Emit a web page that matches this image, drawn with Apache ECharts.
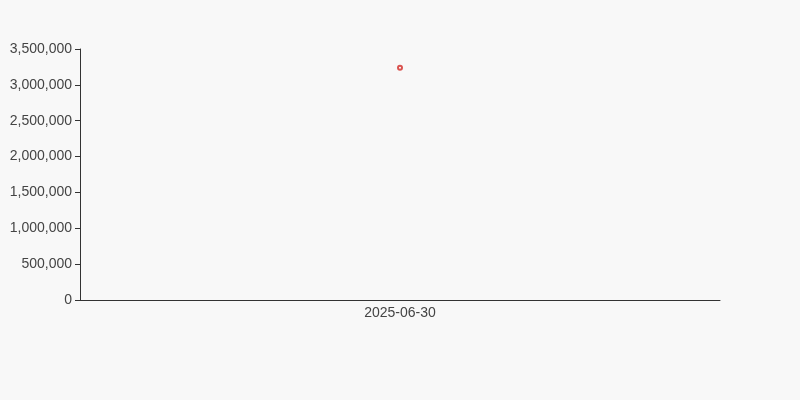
<!DOCTYPE html>
<html lang="en">
<head>
	<meta charset="UTF-8">
	<title>echarts</title>
	<script src="https://cdn.jsdelivr.net/npm/echarts@6/dist/echarts.min.js"></script>
	<style>
		html, body { margin: 0; padding: 0; background: #f8f8f8; }
		#main { width: 800px; height: 400px; }
	</style>
</head>
<body>
	<div id="main"></div>
	<script type="text/javascript">
		var dates = ['2025-06-30'];
		var values = [3240000];

		var myChart = echarts.init(document.getElementById('main'));

		var option = {
			backgroundColor: '#f8f8f8',
			animation: false,
			grid: { left: 80, right: 80, top: 49, bottom: 100, containLabel: false },
			xAxis: {
				type: 'category',
				data: dates,
				boundaryGap: true,
				axisLine: { lineStyle: { color: '#333' } },
				axisTick: { lineStyle: { color: '#333' } },
				axisLabel: { color: '#444', fontSize: 14, margin: 6, fontFamily: 'Liberation Sans' }
			},
			yAxis: {
				type: 'value',
				min: 0,
				max: 3500000,
				interval: 500000,
				splitLine: { show: false },
				axisLine: { show: true, lineStyle: { color: '#333' } },
				axisTick: { show: true, lineStyle: { color: '#333' } },
				axisLabel: {
					color: '#444', fontSize: 14, fontFamily: 'Liberation Sans',
					formatter: function (v) { return v.toLocaleString('en-US'); }
				}
			},
			series: [{
				type: 'line',
				data: values,
				symbol: 'emptyCircle',
				symbolSize: 4,
				itemStyle: { color: '#d9534f', borderWidth: 1 },
				lineStyle: { color: '#d9534f' }
			}]
		};

		myChart.setOption(option);
	</script>
</body>
</html>
